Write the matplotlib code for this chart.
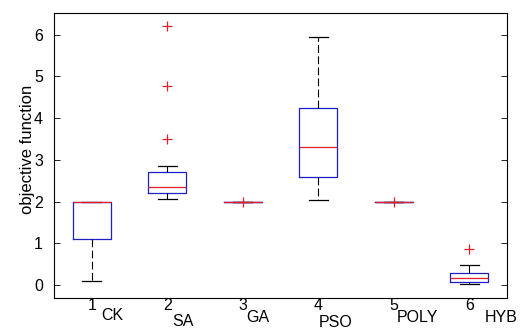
import matplotlib
matplotlib.use("Agg")
import matplotlib.pyplot as plt
import matplotlib.transforms as mtransforms

# Summary statistics of the objective function for each method
methods = ["CK", "SA", "GA", "PSO", "POLY", "HYB"]
q1 = [1.10, 2.21, 2.00, 2.60, 2.00, 0.08]
medians = [2.00, 2.34, 2.00, 3.32, 2.00, 0.18]
q3 = [2.00, 2.70, 2.00, 4.25, 2.00, 0.30]
whisker_low = [0.10, 2.07, 2.00, 2.04, 2.00, 0.04]
whisker_high = [2.00, 2.85, 2.00, 5.95, 2.00, 0.49]
outliers = [[], [3.49, 4.77, 6.21], [2.00], [], [2.00], [0.86]]
tick_labels = ["1", "2", "3", "4", "5", "6"]
yticks = [0, 1, 2, 3, 4, 5, 6]

# Placement of the method names under the axis (x in data units, y in axes fraction)
name_x = [1.13, 2.06, 3.05, 4.00, 5.04, 6.21]
name_y = [-0.064, -0.082, -0.068, -0.087, -0.068, -0.068]

plt.rcParams["font.family"] = ["Liberation Sans", "DejaVu Sans"]

fig = plt.figure(figsize=(5.22, 3.34), dpi=100)
ax = fig.add_axes([54 / 522, 1 - 297.7 / 334, (507 - 54) / 522, (297.7 - 13.3) / 334])

stats = []
for i in range(len(methods)):
    stats.append(dict(
        med=medians[i], q1=q1[i], q3=q3[i],
        whislo=whisker_low[i], whishi=whisker_high[i],
        fliers=outliers[i], label=tick_labels[i],
    ))

positions = list(range(1, len(methods) + 1))
ax.bxp(
    stats, positions=positions, widths=0.5, showfliers=True,
    boxprops=dict(color="#1f1fc8", linewidth=0.9),
    medianprops=dict(color="#e0202a", linewidth=0.9),
    whiskerprops=dict(color="black", linewidth=0.8, linestyle=(0, (7, 3))),
    capprops=dict(color="black", linewidth=0.9),
    capwidths=0.25,
    flierprops=dict(marker="+", markeredgecolor="#e0202a", markersize=7,
                    markeredgewidth=0.9, linestyle="none"),
)

ax.set_xlim(0.5, 6.5)
ax.set_ylim(-0.30, 6.51)
ax.set_yticks(yticks)
ax.set_yticklabels([str(v) for v in yticks])
ax.set_xticks(positions)
ax.set_xticklabels(tick_labels)

ax.tick_params(axis="y", direction="in", length=4, width=0.6, right=True,
               labelsize=11.5, pad=8)
ax.tick_params(axis="x", length=0, labelsize=11.5, pad=0)

for sp in ax.spines.values():
    sp.set_linewidth(0.8)
    sp.set_color("black")

trans = mtransforms.blended_transform_factory(ax.transData, ax.transAxes)
for name, x, y in zip(methods, name_x, name_y):
    ax.text(x, y, name, transform=trans, ha="left", va="center",
            fontsize=11.5, clip_on=False)

fig.text(27.5 / 522, 1 - 149 / 334, "objective function", rotation=90,
         ha="center", va="center", fontsize=12)

fig.savefig("out.png", dpi=100, facecolor="white")
